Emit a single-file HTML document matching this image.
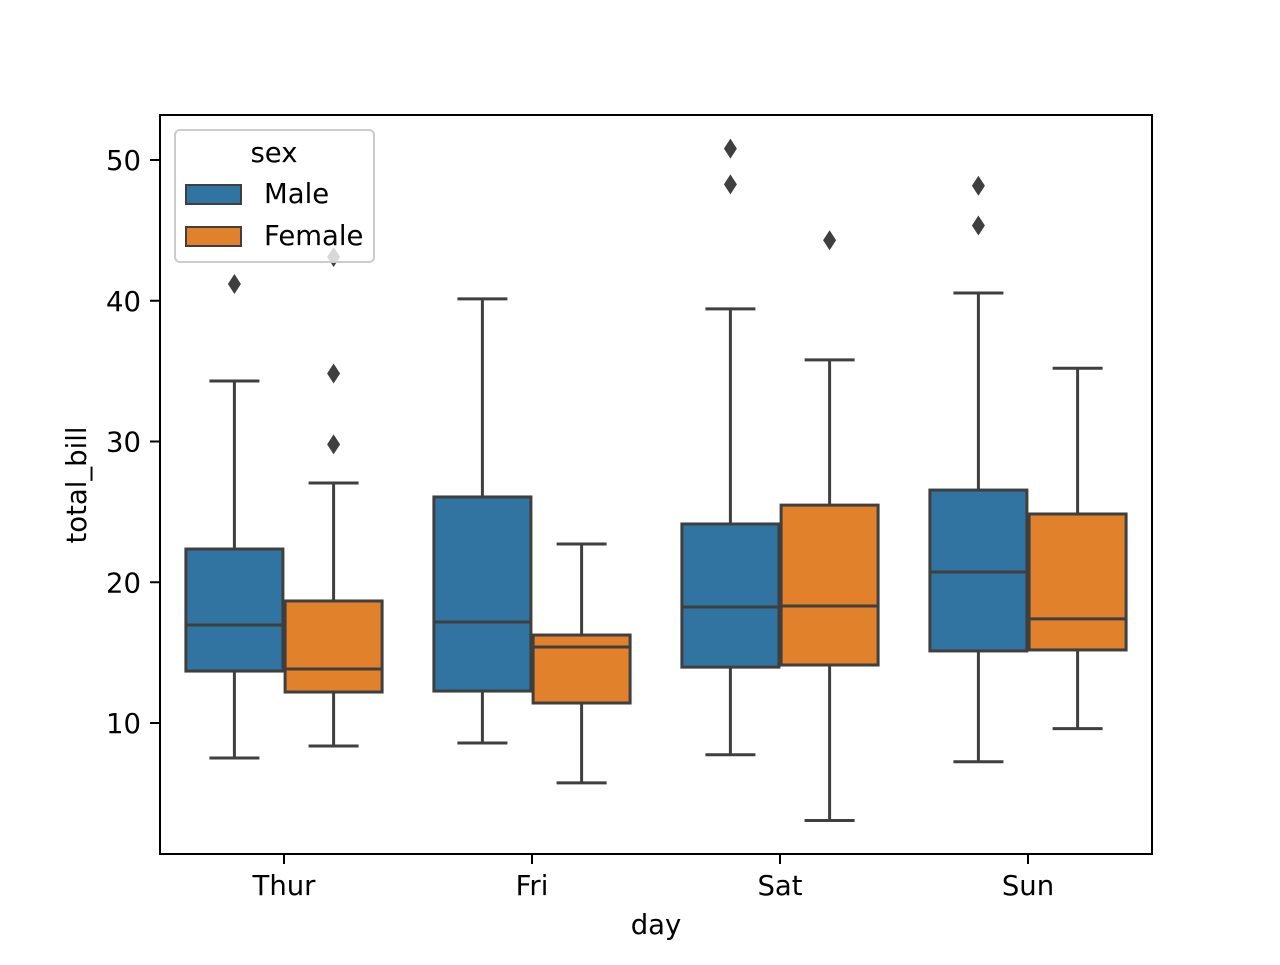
<!DOCTYPE html>
<html><head><meta charset="utf-8"><style>
body{margin:0;background:#fff}
svg text{font-family:"DejaVu Sans","Liberation Sans",sans-serif;fill:#000}
</style></head><body>
<svg id="chart" width="1280" height="960" xmlns="http://www.w3.org/2000/svg">
<rect x="0" y="0" width="1280" height="960" fill="#fff"/>
<g id="marks"></g>
<rect x="160" y="115" width="992" height="739" fill="none" stroke="#000" stroke-width="2"/>
<g id="axes"></g>
<text x="656" y="934" font-size="27.5" text-anchor="middle">day</text>
<text transform="translate(86,485) rotate(-90)" font-size="27.5" text-anchor="middle">total_bill</text>
<g>
<rect x="175" y="130" width="199" height="132" rx="5" fill="#fff" fill-opacity="0.8" stroke="#ccc" stroke-width="2"/>
<text x="274" y="162" font-size="27.5" text-anchor="middle">sex</text>
<rect x="186" y="185" width="55" height="19" fill="#3274a1" stroke="#3f3f3f" stroke-width="2"/>
<text x="264" y="203" font-size="27.5">Male</text>
<rect x="186" y="227" width="55" height="19" fill="#e1812c" stroke="#3f3f3f" stroke-width="2"/>
<text x="264" y="245" font-size="27.5">Female</text>
</g>
</svg>
<script>
const days = ["Thur","Fri","Sat","Sun"];
const sexes = ["Male","Female"];
const whisLo = [[7.51,8.37],[8.58,5.75],[7.74,3.07],[7.25,9.6]];
const q1 = [[13.69,12.2],[12.27,11.42],[13.97,14.12],[15.12,15.19]];
const med = [[16.96,13.84],[17.18,15.4],[18.24,18.31],[20.73,17.4]];
const q3 = [[22.36,18.67],[26.06,16.25],[24.14,25.48],[26.55,24.85]];
const whisHi = [[34.3,27.05],[40.13,22.72],[39.42,35.8],[40.55,35.2]];
const outliers = [[[41.19],[43.11,34.83,29.8]],[[],[]],[[50.81,48.27],[44.3]],[[48.17,45.35],[]]];
const yTicks = [10,20,30,40,50];
const colors = ["#3274a1","#e1812c"];
const NS="http://www.w3.org/2000/svg";
function y(v){return 863.75 - v*14.075;}
function xCat(i){return 284 + i*248;}
function el(tag,attrs,parent){const e=document.createElementNS(NS,tag);for(const k in attrs)e.setAttribute(k,attrs[k]);parent.appendChild(e);return e;}
const marks=document.getElementById('marks'), axes=document.getElementById('axes');
const lc="#3f3f3f", lw=3;
days.forEach((d,i)=>{
  sexes.forEach((s,j)=>{
    const cx = xCat(i) + (j===0?-49.6:49.6), hw=48.5, cw=25;
    const g=el('g',{},marks);
    
    
    el('line',{x1:cx,x2:cx,y1:y(whisHi[i][j]),y2:y(q3[i][j]),stroke:lc,'stroke-width':lw},g);
    el('line',{x1:cx,x2:cx,y1:y(q1[i][j]),y2:y(whisLo[i][j]),stroke:lc,'stroke-width':lw},g);
    el('line',{x1:cx-cw,x2:cx+cw,y1:y(whisHi[i][j]),y2:y(whisHi[i][j]),stroke:lc,'stroke-width':lw},g);
    el('line',{x1:cx-cw,x2:cx+cw,y1:y(whisLo[i][j]),y2:y(whisLo[i][j]),stroke:lc,'stroke-width':lw},g);
    el('rect',{x:cx-hw,y:y(q3[i][j]),width:hw*2,height:y(q1[i][j])-y(q3[i][j]),fill:colors[j],stroke:lc,'stroke-width':lw},g);
    el('line',{x1:cx-hw,x2:cx+hw,y1:y(med[i][j]),y2:y(med[i][j]),stroke:lc,'stroke-width':lw},g);
    outliers[i][j].forEach(v=>{
      const py=y(v);
      const p=el('polygon',{points:`${cx},${py-10} ${cx+6.5},${py} ${cx},${py+10} ${cx-6.5},${py}`,fill:lc},g);
      
      
    });
  });
  const t=el('line',{x1:xCat(i),x2:xCat(i),y1:854,y2:864,stroke:'#000','stroke-width':2},axes);
  
  
  const tx=el('text',{x:xCat(i),y:895,'font-size':27.5,'text-anchor':'middle'},axes);
  tx.textContent=d;
  
  
});
yTicks.forEach(v=>{
  const t=el('line',{x1:150,x2:160,y1:y(v),y2:y(v),stroke:'#000','stroke-width':2},axes);
  
  
  const tx=el('text',{x:141,y:y(v)+10,'font-size':27.5,'text-anchor':'end'},axes);
  tx.textContent=v;
  
  
});
</script>
</body></html>
